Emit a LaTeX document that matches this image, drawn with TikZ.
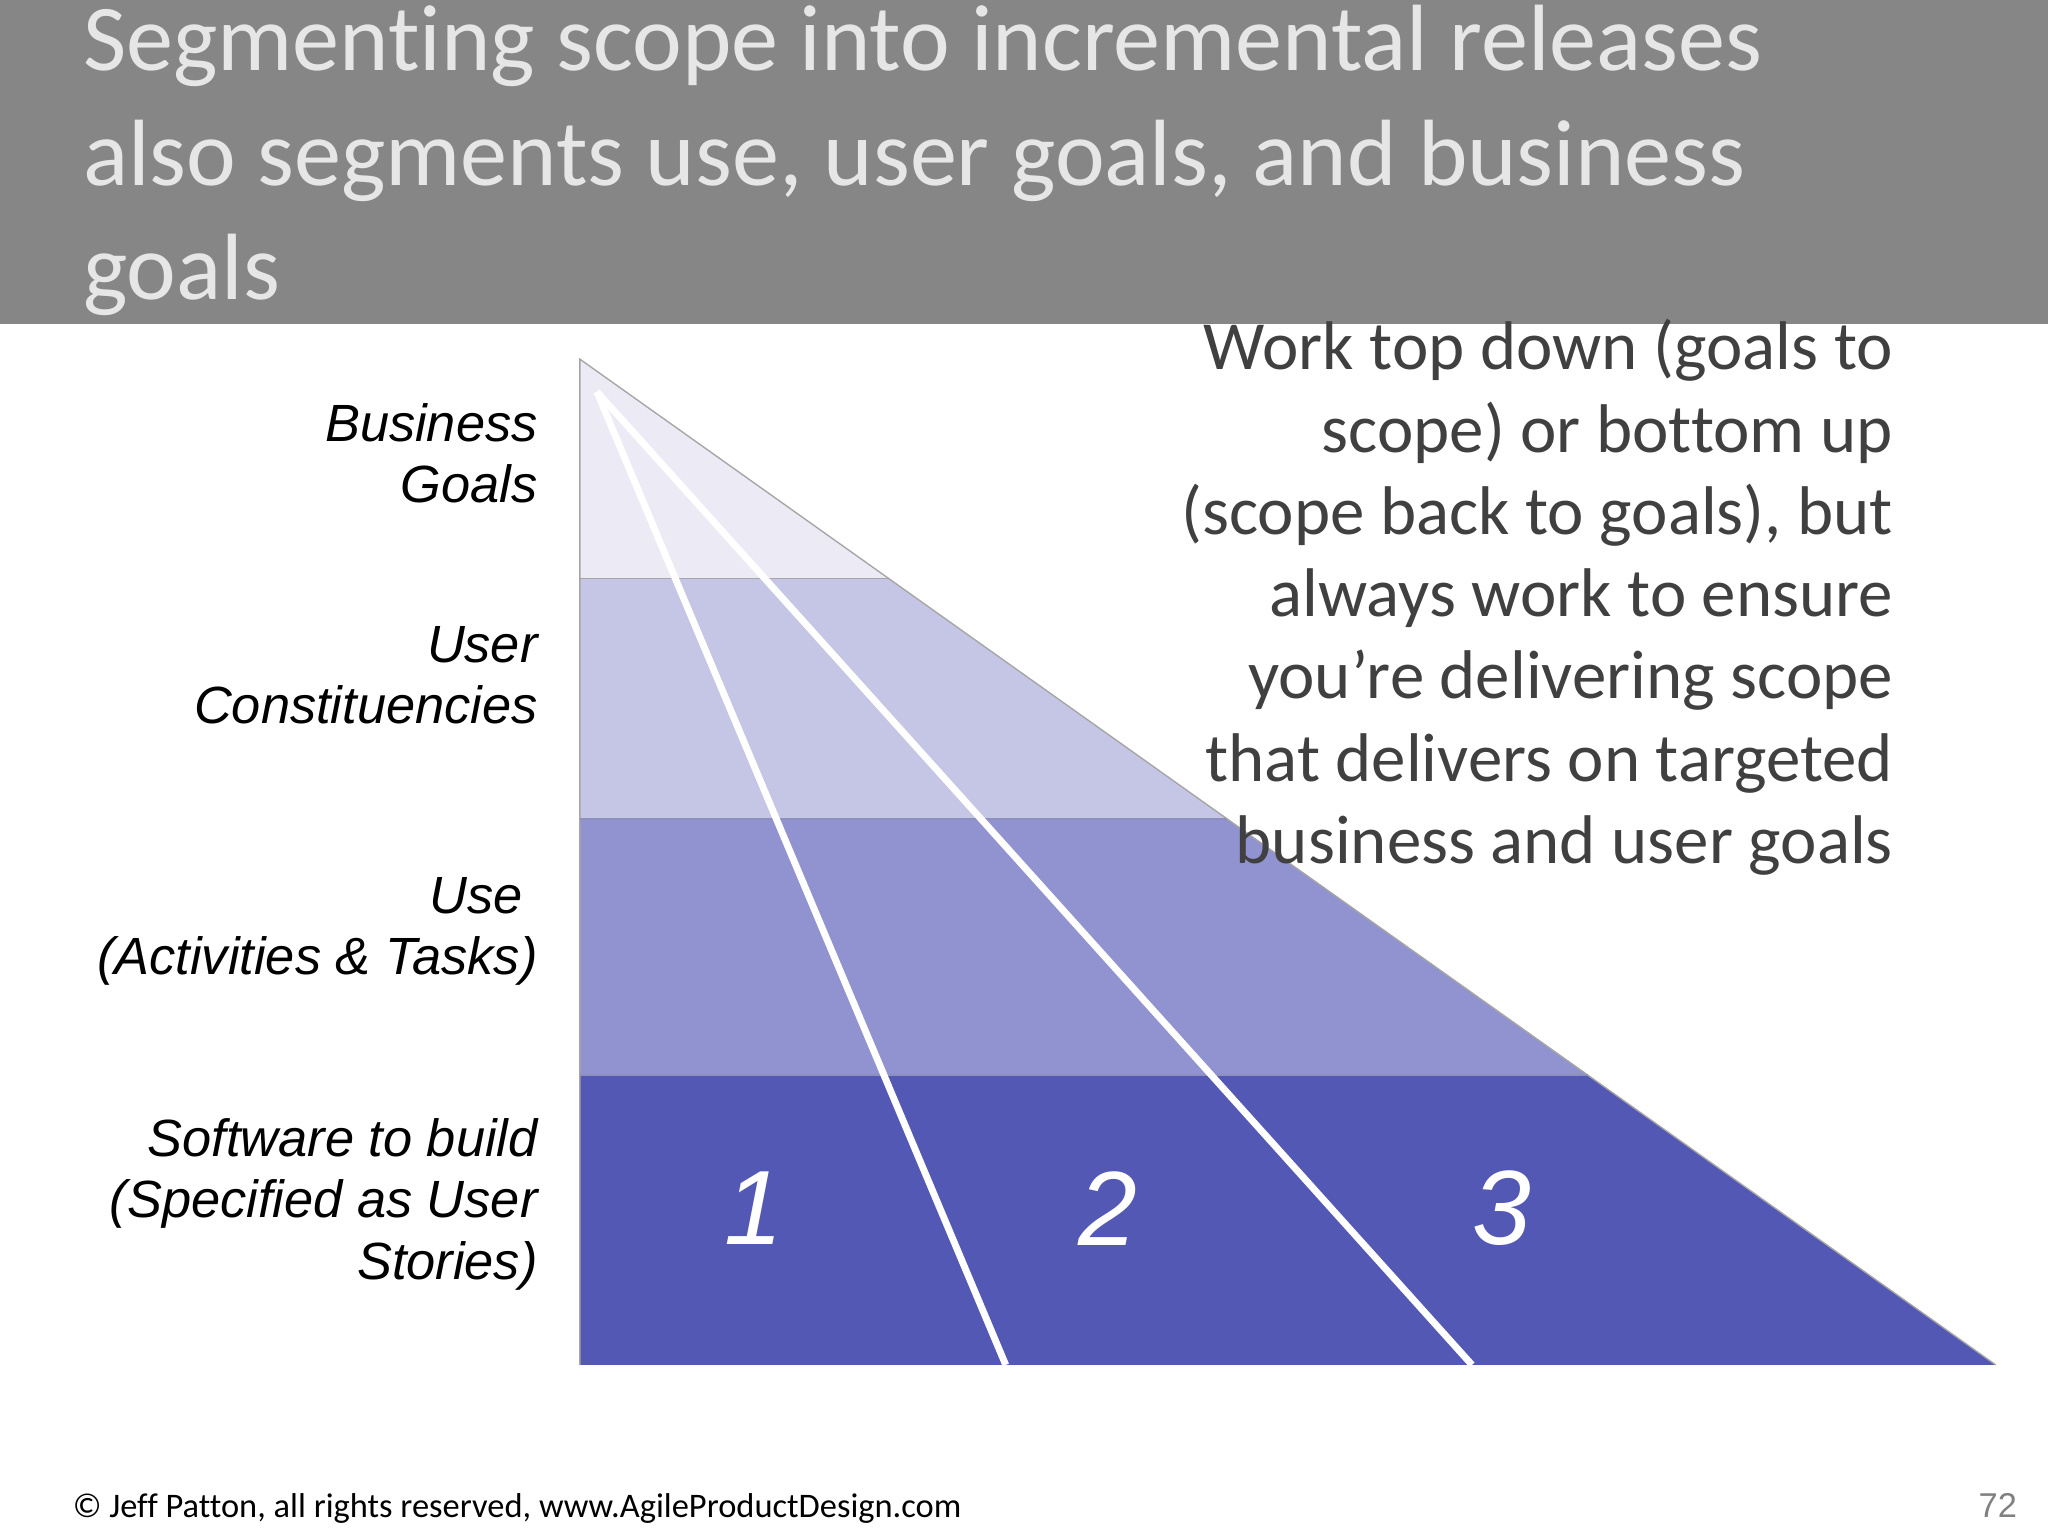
\documentclass[tikz,border=0pt]{standalone}
\usepackage{fontspec}
\setmainfont{Carlito}[Ligatures=NoCommon]
\newfontfamily\lblfont{Liberation Sans}
\definecolor{hdr}{HTML}{868686}
\definecolor{ttl}{HTML}{E6E6E6}
\definecolor{bA}{HTML}{ECEBF5}
\definecolor{bB}{HTML}{C5C5E6}
\definecolor{bC}{HTML}{9093CF}
\definecolor{bD}{HTML}{5358B4}
\definecolor{txt}{HTML}{404040}
\tikzset{
 lbl/.style={align=right,anchor=east,font=\lblfont\itshape\fontsize{11.4}{13.4}\selectfont},
 num/.style={text=white,font=\lblfont\itshape\fontsize{23}{26}\selectfont},
 rel/.style={draw=white,line width=1.5pt}
}
\begin{document}
\begin{tikzpicture}[x=0.01cm,y=-0.01cm]
\useasboundingbox (0,0) rectangle (1568,1176);
\fill[hdr] (0,0) rectangle (1568,248);
\node[anchor=north west,align=left,text=ttl,font=\fontsize{20.5}{25}\selectfont,inner sep=0] (title) at (63,3)
 {Segmenting scope into incremental releases\\also segments use, user goals, and business\\goals};
\fill[bA] (444,275) -- (680.5,443) -- (444,443) -- cycle;
\fill[bB] (444,443) -- (680.5,443) -- (939.6,627) -- (444,627) -- cycle;
\fill[bC] (444,627) -- (939.6,627) -- (1215.6,823) -- (444,823) -- cycle;
\fill[bD] (444,823) -- (1215.6,823) -- (1528,1045) -- (444,1045) -- cycle;
\draw[gray!70,line width=0.3pt] (444,1045) -- (444,275) -- (1528,1045);
\draw[gray!70,line width=0.3pt] (444,443) -- (680.5,443);
\draw[bC!80!gray,line width=0.3pt] (444,627) -- (939.6,627) (444,823) -- (1215.6,823);
\coordinate (apex) at (457,300);
\coordinate (e1) at (770,1045);
\coordinate (e2) at (1127,1045);
\draw[rel] (apex) -- (e1);
\draw[rel] (apex) -- (e2);
\node[num] (n1) at (577,925) {1};
\node[num] (n2) at (848,925) {2};
\node[num] (n3) at (1150,925) {3};
\node[lbl] (l1) at (424,347) {Business\\Goals};
\node[lbl] (l2) at (424,517) {User\\Constituencies};
\node[lbl] (l3) at (424,713) {Use~~\\(Activities \& Tasks)};
\node[lbl] (l4) at (424,922) {Software to build\\(Specified as User\\Stories)};
\node[anchor=north east,align=right,text=txt,font=\fontsize{15}{17.9}\selectfont,inner sep=0] (rt) at (1450,244)
 {Work top down (goals to\\scope) or bottom up\\(scope back to goals), but\\always work to ensure\\you’re delivering scope\\that delivers on targeted\\business and user goals};
\node[anchor=west,font=\fontsize{7.5}{9}\selectfont,text=black,inner sep=0] (ft) at (55,1155) {© Jeff Patton, all rights reserved, www.AgileProductDesign.com};
\node[anchor=east,font=\lblfont\fontsize{7.5}{9}\selectfont,text=gray,inner sep=0] (pg) at (1545,1153) {72};
\end{tikzpicture}
\end{document}
